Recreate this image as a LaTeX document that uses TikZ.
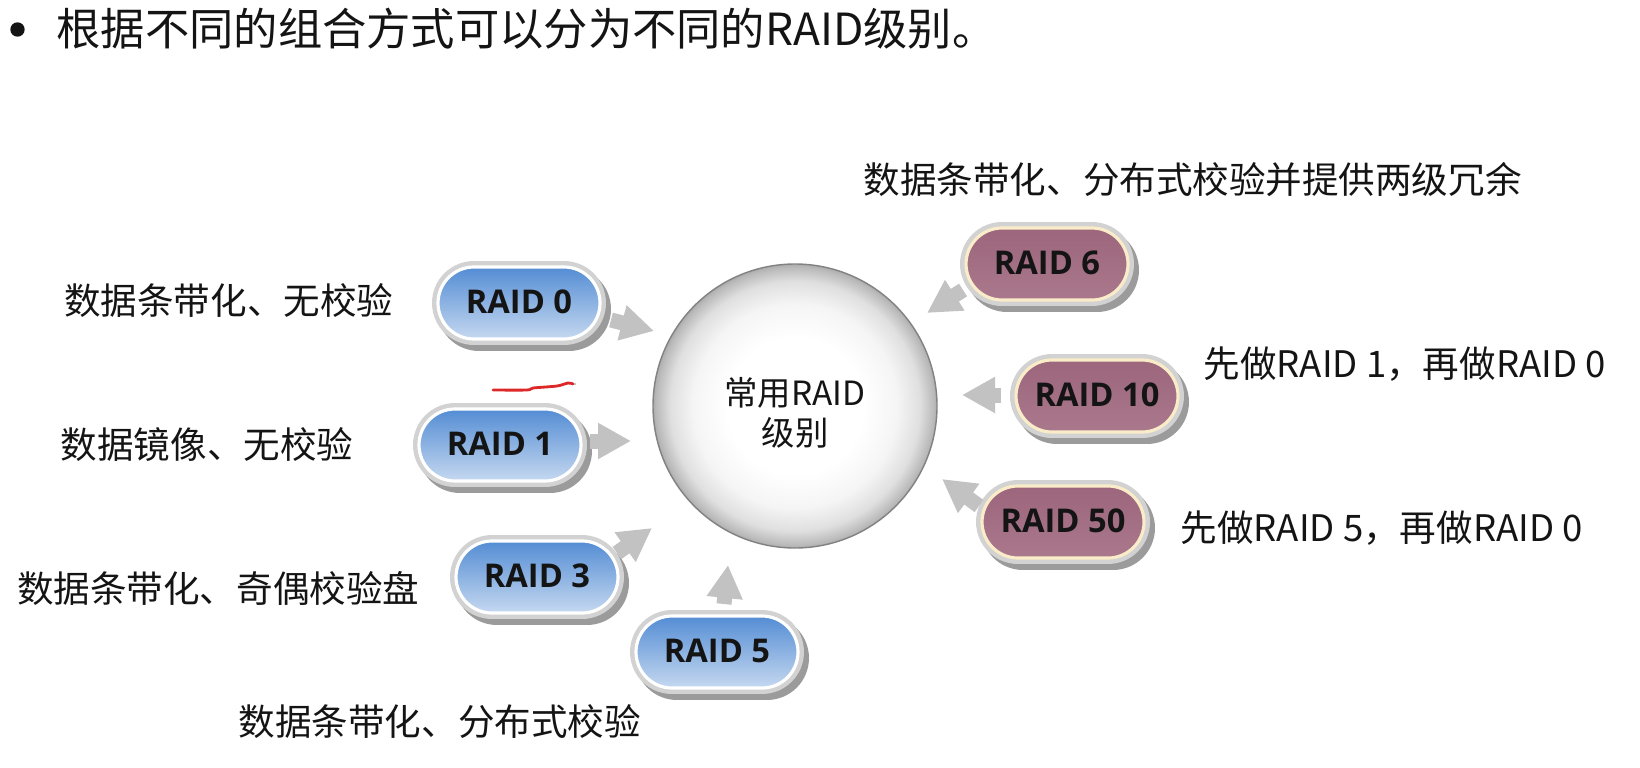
\documentclass[tikz,border=0pt]{standalone}
\usepackage{fontspec}
\usepackage{tikz}
\usetikzlibrary{arrows.meta}
\newfontfamily\cjk{Noto Sans CJK SC}
\newfontfamily\pillfont{Open Sans}
\definecolor{darktext} {RGB}{20,  20,  20}
\definecolor{blueTop}  {RGB}{84, 141, 212}
\definecolor{blueBot}  {RGB}{197, 216, 240}
\definecolor{mauveTop} {RGB}{156, 102, 124}
\definecolor{mauveBot} {RGB}{170, 120, 140}
\definecolor{cream}    {RGB}{250, 236, 200}
\definecolor{ringgray} {RGB}{210, 210, 210}
\definecolor{ringshade}{RGB}{155, 155, 155}
\definecolor{arrowgray}{RGB}{194, 194, 194}
\definecolor{hubrim}   {RGB}{130, 130, 130}
\definecolor{redink}   {RGB}{220,  40,  40}
\pgfdeclareradialshading{hubshade}{\pgfpoint{0bp}{0bp}}{%
  color(0bp)=(white); color(12bp)=(white); color(18bp)=(gray!8);
  color(22bp)=(gray!25); color(24.5bp)=(gray!55); color(25bp)=(gray!65);
  color(50bp)=(gray!65)}

\begin{document}
\begin{tikzpicture}[font=\cjk\fontsize{10.4}{12}\selectfont, text=darktext, inner sep=0pt,
  pill/.style={rectangle, rounded corners=0.36cm, minimum width=1.62cm, minimum height=0.72cm,
    line width=0.9pt, text=darktext, font=\pillfont\bfseries\fontsize{9.3}{10}\selectfont,
    text depth=0.6pt,
    preaction={draw=ringshade, fill=ringshade, line width=3.4pt,
      transform canvas={shift={(0.05cm,-0.06cm)}}},
    preaction={draw=ringgray, line width=3.4pt}},
  bluepill/.style={pill, draw=white, top color=blueTop, bottom color=blueBot},
  mauvepill/.style={pill, draw=cream, top color=mauveTop, bottom color=mauveBot},
  bigarrow/.style={-{Triangle[length=3.3mm, width=3.4mm]}, line width=1.5mm, arrowgray}]
  \useasboundingbox (0,0) rectangle (16.4,7.67);
  % title line
  \fill[darktext] (0.175,7.375) circle (0.072);
  \node[anchor=west, font=\cjk\fontsize{12.6}{14}\selectfont] (title) at (0.56,7.38)
    {根据不同的组合方式可以分为不同的RAID级别。};
  % centre
  \node[circle, minimum size=2.84cm, shading=hubshade, draw=hubrim, line width=0.4pt,
    align=center, font=\cjk\fontsize{9.5}{11.2}\selectfont] (hub) at (7.95,3.61)
    {\rule{0pt}{1.25em}常用RAID\\级别};
  % levels
  \node[bluepill]  (r0)  at (5.19,4.64) {RAID 0};
  \node[bluepill]  (r1)  at (5.00,3.22) {RAID 1};
  \node[bluepill]  (r3)  at (5.37,1.90) {RAID 3};
  \node[bluepill]  (r5)  at (7.17,1.15) {RAID 5};
  \node[mauvepill] (r6)  at (10.47,5.03) {RAID 6};
  \node[mauvepill] (r10) at (10.97,3.71) {RAID 10};
  \node[mauvepill] (r50) at (10.63,2.45) {RAID 50};
  % descriptions
  \node[anchor=east] (l0) at (3.94,4.66) {数据条带化、无校验};
  \node[anchor=east] (l1) at (3.54,3.22) {数据镜像、无校验};
  \node[anchor=east] (l3) at (4.20,1.79) {数据条带化、奇偶校验盘};
  \node[anchor=west] (l5) at (2.38,0.45) {数据条带化、分布式校验};
  \node[anchor=west] (l6) at (8.63,5.87) {数据条带化、分布式校验并提供两级冗余};
  \node[anchor=west] (l10) at (12.03,4.03) {先做RAID 1，再做RAID 0};
  \node[anchor=west] (l50) at (11.80,2.39) {先做RAID 5，再做RAID 0};
  % arrow ends
  \coordinate (a0)  at (6.11,4.47); \coordinate (t0)  at (6.54,4.36);
  \coordinate (a1)  at (5.90,3.26); \coordinate (t1)  at (6.31,3.26);
  \coordinate (a3)  at (6.17,2.14); \coordinate (t3)  at (6.52,2.39);
  \coordinate (a5)  at (7.24,1.63); \coordinate (t5)  at (7.28,2.02);
  \coordinate (a6)  at (9.63,4.77); \coordinate (t6)  at (9.27,4.54);
  \coordinate (a10) at (10.01,3.72); \coordinate (t10) at (9.62,3.72);
  \coordinate (a50) at (9.79,2.61); \coordinate (t50) at (9.42,2.88);
  \foreach \s/\t in {a0/t0, a1/t1, a3/t3, a5/t5, a6/t6, a10/t10, a50/t50}
    \draw[bigarrow] (\s) -- (\t);
  % pen mark
  \draw[redink, line width=0.8pt, line cap=round] plot[smooth] coordinates
    {(4.93,3.77) (5.27,3.77) (5.33,3.79) (5.57,3.81) (5.68,3.84) (5.73,3.83)};
  \fill[gray!60] (5.75,3.83) circle (0.012);
\end{tikzpicture}
\end{document}
